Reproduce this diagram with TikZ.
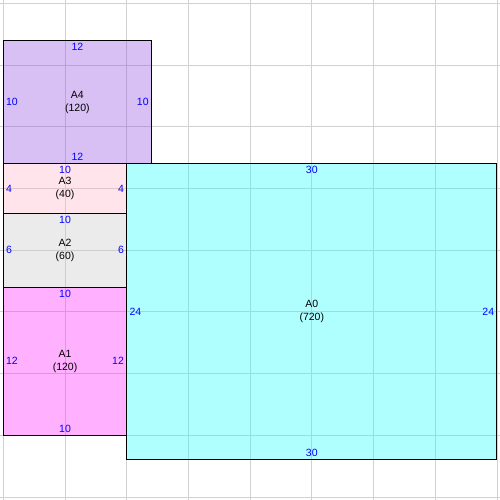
\documentclass[tikz,border=0pt]{standalone}
\usepackage{fontspec}
\setmainfont{Liberation Sans}
\usepackage{tikz}

\definecolor{roomA0}{RGB}{29,255,255}
\definecolor{roomA1}{RGB}{255,29,255}
\definecolor{roomA2}{RGB}{198,198,198}
\definecolor{roomA3}{RGB}{255,178,201}
\definecolor{roomA4}{RGB}{144,75,226}

\tikzset{
    gridline/.style={draw=black!18, line width=0.8pt},
    room/.style={draw=black, line width=0.9pt, fill opacity=0.35},
    dim/.style={text=blue, font=\fontsize{10.5}{12}\selectfont, inner sep=2.6pt},
    areaname/.style={align=center, font=\fontsize{10.5}{13}\selectfont, inner sep=0pt}
}

\begin{document}
\begin{tikzpicture}[x=12.34pt, y=-12.34pt]
    \useasboundingbox (-0.27,-0.27) rectangle (40.25,40.25);
    % Grid
    \foreach \k in {0,5,...,40} {
        \draw[gridline] (\k,-0.27) -- (\k,40.25);
        \draw[gridline] (-0.27,\k) -- (40.25,\k);
    }
    % Rooms
    \filldraw[room, fill=roomA4] (0,3) rectangle (12,13);
    \filldraw[room, fill=roomA3] (0,13) rectangle (10,17);
    \filldraw[room, fill=roomA2] (0,17) rectangle (10,23);
    \filldraw[room, fill=roomA1] (0,23) rectangle (10,35);
    \filldraw[room, fill=roomA0] (10,13) rectangle (40,37);
    % Room A4
    \node[areaname] (a4) at (6,8) {A4\\(120)};
    \node[dim, anchor=north] (a4top) at (6,3) {12};
    \node[dim, anchor=south] (a4bot) at (6,13) {12};
    \node[dim, anchor=west] (a4left) at (0,8) {10};
    \node[dim, anchor=east] (a4right) at (12,8) {10};
    % Room A3
    \node[areaname] (a3) at (5,15) {A3\\(40)};
    \node[dim, anchor=north] (a3top) at (5,13) {10};
    \node[dim, anchor=west] (a3left) at (0,15) {4};
    \node[dim, anchor=east] (a3right) at (10,15) {4};
    % Room A2
    \node[areaname] (a2) at (5,20) {A2\\(60)};
    \node[dim, anchor=north] (a2top) at (5,17) {10};
    \node[dim, anchor=west] (a2left) at (0,20) {6};
    \node[dim, anchor=east] (a2right) at (10,20) {6};
    % Room A1
    \node[areaname] (a1) at (5,29) {A1\\(120)};
    \node[dim, anchor=north] (a1top) at (5,23) {10};
    \node[dim, anchor=south] (a1bot) at (5,35) {10};
    \node[dim, anchor=west] (a1left) at (0,29) {12};
    \node[dim, anchor=east] (a1right) at (10,29) {12};
    % Room A0
    \node[areaname] (a0) at (25,25) {A0\\(720)};
    \node[dim, anchor=north] (a0top) at (25,13) {30};
    \node[dim, anchor=south] (a0bot) at (25,37) {30};
    \node[dim, anchor=west] (a0left) at (10,25) {24};
    \node[dim, anchor=east] (a0right) at (40,25) {24};
\end{tikzpicture}
\end{document}
